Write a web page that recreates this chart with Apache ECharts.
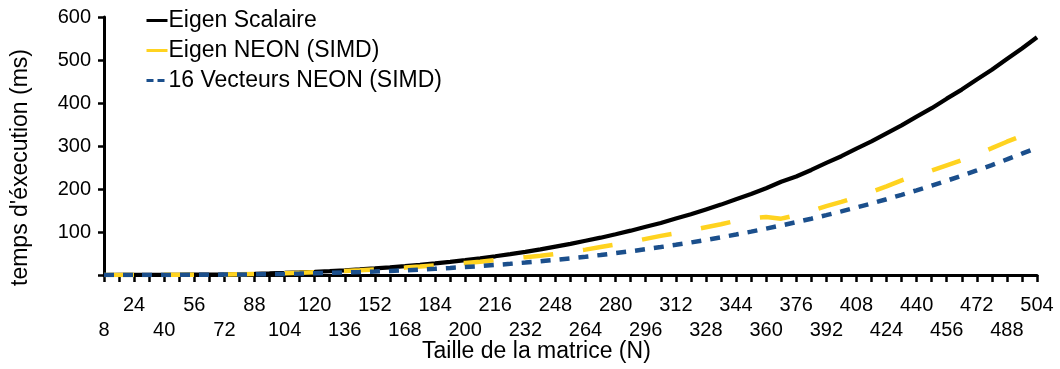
<!DOCTYPE html>
<html>
<head>
<meta charset="utf-8">
<script src="https://cdn.jsdelivr.net/npm/echarts@6/dist/echarts.min.js"></script>
<style>
  html, body { margin: 0; padding: 0; background: #fff; }
  #chart { width: 1060px; height: 369px; }
</style>
</head>
<body>
<div id="chart"></div>
<script>
// Matrix sizes N (8 .. 504, step 8)
const sizes = [
  8, 16, 24, 32, 40, 48, 56, 64,
  72, 80, 88, 96, 104, 112, 120, 128,
  136, 144, 152, 160, 168, 176, 184, 192,
  200, 208, 216, 224, 232, 240, 248, 256,
  264, 272, 280, 288, 296, 304, 312, 320,
  328, 336, 344, 352, 360, 368, 376, 384,
  392, 400, 408, 416, 424, 432, 440, 448,
  456, 464, 472, 480, 488, 496, 504
];

// Execution time (ms) — scalar Eigen
const eigenScalar = [
  0, 0.1, 0.1, 0.2, 0.3, 0.5, 0.8, 1.1,
  1.6, 2.2, 2.9, 3.8, 4.9, 6.1, 7.5, 9.1,
  10.9, 12.9, 15.2, 17.7, 20.5, 23.5, 26.9, 30.6,
  34.6, 38.9, 43.5, 48.4, 53.9, 59.6, 66.0, 72.4,
  79.6, 86.8, 94.9, 103.1, 112.2, 121.1, 131.4, 141.3,
  152.6, 163.7, 176.1, 188.2, 201.8, 216.8, 229.0, 244.3,
  260.6, 276.2, 293.8, 310.7, 329.5, 348.0, 368.4, 388.0,
  410.1, 431.2, 454.6, 477.4, 502.3, 526.8, 553.0
];

// Execution time (ms) — Eigen with NEON
const eigenNeon = [
  0, 0, 0.1, 0.1, 0.3, 0.4, 0.7, 1.0,
  1.4, 2.0, 2.6, 3.4, 4.3, 5.4, 6.6, 8.0,
  9.5, 11.2, 13.0, 15.0, 17.2, 19.6, 22.2, 25.0,
  28.0, 31.0, 34.5, 38.0, 41.5, 45.0, 49.0, 54.0,
  59.0, 65.0, 71.0, 77.0, 84.0, 91.0, 97.0, 104.0,
  111.0, 118.0, 126.0, 132.0, 135.0, 131.0, 139.0, 149.0,
  160.0, 170.0, 181.0, 193.0, 206.0, 220.0, 232.0, 243.0,
  255.0, 267.0, 281.0, 295.0, 310.0, 324.0, 338.0
];

// Execution time (ms) — 16 NEON vectors
const vectors16Neon = [
  0, 0, 0, 0.1, 0.2, 0.3, 0.4, 0.6,
  0.9, 1.2, 1.6, 2.0, 2.6, 3.2, 4.0, 4.8,
  5.8, 6.9, 8.1, 9.5, 11.0, 12.6, 14.4, 16.4,
  18.5, 20.8, 23.3, 26.0, 28.9, 32.0, 35.3, 38.8,
  42.5, 46.5, 50.8, 55.2, 60.0, 64.9, 70.2, 75.7,
  81.6, 87.7, 94.1, 100.8, 107.9, 115.2, 122.9, 130.9,
  139.3, 148.0, 157.0, 166.4, 176.2, 186.4, 197.0, 207.9,
  219.2, 231.0, 243.1, 255.7, 268.7, 282.1, 296.0
];

const seriesNames = ['Eigen Scalaire', 'Eigen NEON (SIMD)', '16 Vecteurs NEON (SIMD)'];
const yTicks = { min: 0, max: 600, step: 100 };

const FONT = '"Liberation Sans", Arial, sans-serif';

// Size labels alternate between two rows: row 0 (lower) and row 1 (upper)
function sizeLabel(row, margin) {
  return {
    interval: 0,
    showMinLabel: true,
    showMaxLabel: true,
    hideOverlap: false,
    margin: margin,
    fontFamily: FONT,
    fontSize: 20,
    color: '#000',
    formatter: function (value, index) {
      return index % 4 === (row === 0 ? 0 : 2) ? String(value) : '';
    }
  };
}

const chart = echarts.init(document.getElementById('chart'), null, { renderer: 'canvas' });

chart.setOption({
  animation: false,
  backgroundColor: '#ffffff',
  textStyle: { fontFamily: FONT, color: '#000' },
  grid: { left: 104, right: 23, top: 17, bottom: 94, containLabel: false },
  legend: {
    orient: 'vertical',
    left: 140,
    top: 4,
    itemWidth: 21,
    itemHeight: 14,
    itemGap: 7,
    data: [
      { name: seriesNames[0] },
      { name: seriesNames[1] },
      { name: seriesNames[2], lineStyle: { type: [7, 4] } }
    ],
    itemStyle: { opacity: 0 },
    lineStyle: { width: 3 },
    textStyle: { fontFamily: FONT, fontSize: 23, color: '#000', padding: [0, 0, 0, -4] }
  },
  xAxis: [
    {
      // axis line, ticks and the upper row of labels
      type: 'category',
      data: sizes,
      boundaryGap: false,
      position: 'bottom',
      axisLine: { lineStyle: { color: '#000', width: 3 } },
      axisTick: { show: true, interval: 0, length: 7, lineStyle: { color: '#000', width: 2.5 } },
      axisLabel: sizeLabel(1, 20),
      splitLine: { show: false }
    },
    {
      // lower row of labels
      type: 'category',
      data: sizes,
      boundaryGap: false,
      position: 'bottom',
      axisLine: { show: false },
      axisTick: { show: false },
      axisLabel: sizeLabel(0, 45),
      splitLine: { show: false }
    }
  ],
  yAxis: {
    type: 'value',
    min: yTicks.min,
    max: yTicks.max,
    interval: yTicks.step,
    axisLine: { show: true, lineStyle: { color: '#000', width: 3 } },
    axisTick: { show: true, length: 6, lineStyle: { color: '#000', width: 2.5 } },
    axisLabel: {
      fontFamily: FONT,
      fontSize: 20,
      color: '#000',
      margin: 13,
      formatter: function (v) { return v === 0 ? '' : String(v); }
    },
    splitLine: { show: false }
  },
  graphic: [
    {
      type: 'text',
      left: 422,
      top: 340,
      style: { text: 'Taille de la matrice (N)', font: '23px ' + FONT, fill: '#000' }
    },
    {
      type: 'text',
      x: 9,
      y: 286,
      rotation: Math.PI / 2,
      style: { text: "temps d'éxecution (ms)", font: '23px ' + FONT, fill: '#000' }
    }
  ],
  series: [
    {
      name: seriesNames[0],
      type: 'line',
      xAxisIndex: 0,
      data: eigenScalar,
      symbol: 'none',
      lineStyle: { color: '#000000', width: 4.2, type: 'solid' },
      itemStyle: { color: '#000000' },
      z: 3
    },
    {
      name: seriesNames[1],
      type: 'line',
      xAxisIndex: 0,
      data: eigenNeon,
      symbol: 'none',
      lineStyle: { color: '#FFD320', width: 4.5, type: [30, 30] },
      itemStyle: { color: '#FFD320' },
      z: 4
    },
    {
      name: seriesNames[2],
      type: 'line',
      xAxisIndex: 0,
      data: vectors16Neon,
      symbol: 'none',
      lineStyle: { color: '#1B4F8C', width: 4.5, type: [10, 9] },
      itemStyle: { color: '#1B4F8C' },
      z: 5
    }
  ]
});
</script>
</body>
</html>
